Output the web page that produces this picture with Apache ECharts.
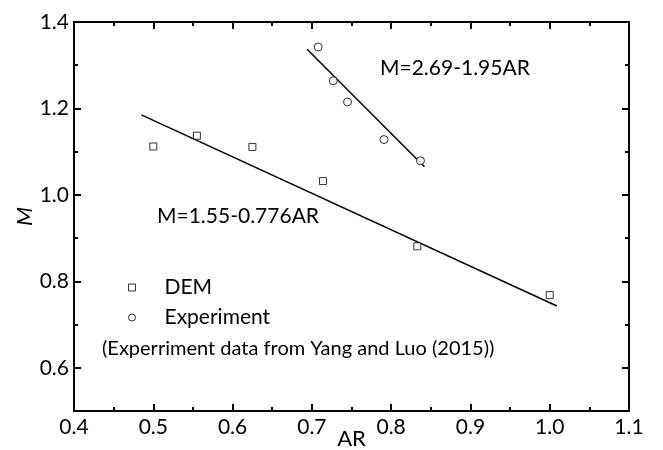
<!DOCTYPE html>
<html lang="en">
<head>
    <meta charset="UTF-8">
    <script src="https://cdn.jsdelivr.net/npm/echarts@6/dist/echarts.min.js"></script>
    <title>M vs AR</title>
</head>
<body style="margin:0;background:#fff;">
    <div id="chart" style="width: 663px;height:450px;"></div>
</body>
<script type="text/javascript">
    // data
    var demAR = [0.5, 0.555, 0.625, 0.714, 0.833, 1.0];
    var demM = [1.112, 1.137, 1.111, 1.032, 0.881, 0.768];
    var expAR = [0.708, 0.727, 0.745, 0.791, 0.837];
    var expM = [1.342, 1.264, 1.215, 1.128, 1.079];
    // fitted lines (end points)
    var demFitAR = [0.485, 1.009];
    var demFitM = [1.185, 0.743];
    var expFitAR = [0.694, 0.842];
    var expFitM = [1.337, 1.065];
    var yMajor = [0.6, 0.8, 1.0, 1.2, 1.4];
    var yMinor = [0.5, 0.7, 0.9, 1.1, 1.3];

    function pairs(xs, ys) {
        return xs.map(function (x, i) { return [x, ys[i]]; });
    }

    var font = 'Lato';
    var black = '#000';
    var chart = echarts.init(document.getElementById('chart'));

    function xAx(pos, showLabel) {
        return {
            type: 'value', position: pos, min: 0.4, max: 1.1, interval: 0.1,
            name: showLabel ? 'AR' : '', nameLocation: 'middle', nameGap: 17,
            nameMoveOverlap: false,
            nameTextStyle: {fontFamily: font, fontSize: 22, color: black},
            axisLine: {show: true, onZero: false, lineStyle: {color: black, width: 2}},
            axisTick: {show: true, inside: true, length: 7, lineStyle: {color: black, width: 2}},
            minorTick: {show: true, splitNumber: 2, length: 4, lineStyle: {color: black, width: 2}},
            axisLabel: {show: showLabel, margin: 6, fontFamily: font, fontSize: 21, color: black,
                formatter: function (v) { return v.toFixed(1); }},
            splitLine: {show: false}
        };
    }

    function yAx(pos, vals, len, showLabel, showName) {
        return {
            type: 'value', position: pos, min: 0.5, max: 1.4,
            name: showName ? 'M' : '', nameLocation: 'middle', nameGap: 38,
            nameMoveOverlap: false,
            nameTextStyle: {fontFamily: font, fontSize: 22, fontStyle: 'italic', color: black},
            axisLine: {show: true, onZero: false, lineStyle: {color: black, width: 2}},
            axisTick: {show: true, inside: true, length: len, customValues: vals,
                lineStyle: {color: black, width: 2}},
            axisLabel: {show: showLabel, customValues: vals, margin: 5, fontFamily: font,
                fontSize: 21, color: black,
                formatter: function (v) { return v.toFixed(1); }},
            splitLine: {show: false}
        };
    }

    chart.setOption({
        animation: false,
        backgroundColor: '#fff',
        grid: {left: 74, right: 34, top: 22, bottom: 39, outerBoundsMode: 'none', containLabel: false},
        xAxis: [xAx('bottom', true), xAx('top', false)],
        yAxis: [
            yAx('left', yMajor, 7, true, true),
            yAx('left', yMinor, 4, false, false),
            yAx('right', yMajor, 7, false, false),
            yAx('right', yMinor, 4, false, false)
        ],
        legend: {
            data: ['DEM', 'Experiment'],
            orient: 'vertical',
            left: 123, top: 272,
            itemWidth: 7, itemHeight: 7, itemGap: 9,
            itemStyle: {borderWidth: 1},
            textStyle: {fontFamily: font, fontSize: 21, color: black, padding: [0, 0, 0, 24]}
        },
        graphic: [
            {type: 'text', left: 380, top: 58,
                style: {text: 'M=2.69-1.95AR', fontFamily: font, fontSize: 21, fill: black}},
            {type: 'text', left: 157, top: 206,
                style: {text: 'M=1.55-0.776AR', fontFamily: font, fontSize: 21, fill: black}},
            {type: 'text', left: 102, top: 339,
                style: {text: '(Experriment data from Yang and Luo (2015))', fontFamily: font, fontSize: 20, fill: black}}
        ],
        series: [
            {
                name: 'DEM', type: 'scatter', symbol: 'rect', symbolSize: 7,
                itemStyle: {color: '#fff', borderColor: black, borderWidth: 1},
                data: pairs(demAR, demM)
            },
            {
                name: 'Experiment', type: 'scatter', symbol: 'circle', symbolSize: 8,
                itemStyle: {color: '#fff', borderColor: black, borderWidth: 1},
                data: pairs(expAR, expM)
            },
            {
                name: 'DEM fit', type: 'line', showSymbol: false, silent: true,
                lineStyle: {color: black, width: 1.5}, z: 1,
                data: pairs(demFitAR, demFitM)
            },
            {
                name: 'Experiment fit', type: 'line', showSymbol: false, silent: true,
                lineStyle: {color: black, width: 1.5}, z: 1,
                data: pairs(expFitAR, expFitM)
            }
        ]
    });
</script>
</html>
